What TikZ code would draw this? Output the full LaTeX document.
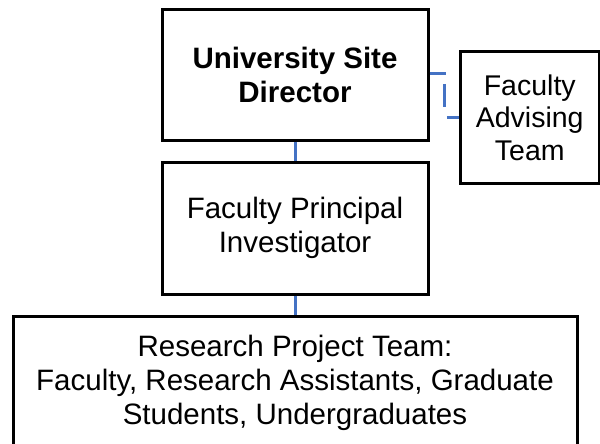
\documentclass[tikz,border=0pt]{standalone}
\usepackage{fontspec}
\setmainfont{Liberation Sans}
\definecolor{linkblue}{HTML}{4472C4}
\begin{document}
\begin{tikzpicture}[x=1pt,y=-1pt,
  box/.style={draw=black, line width=3pt, fill=white, inner sep=0pt,
    align=center, font=\fontsize{29.5}{34}\selectfont},
  link/.style={draw=linkblue, line width=3pt},
  dashlink/.style={link, dash pattern=on 15pt off 9.5pt on 22.5pt off 14pt on 20pt off 10pt}]
  \useasboundingbox (0,0) rectangle (600,444);
  \clip (0,0) rectangle (600,444);

  \node[box, minimum width=266pt, minimum height=130pt] (dir) at (295,75)
    {\bfseries University Site\\\bfseries Director};
  \node[box, minimum width=138.5pt, minimum height=131.5pt,
        font=\fontsize{28.5}{32.5}\selectfont] (adv) at (529.75,117.75)
    {Faculty\\Advising\\Team};
  \node[box, minimum width=266pt, minimum height=132pt] (pi) at (295,228)
    {Faculty Principal\\Investigator};
  \node[box, minimum width=564pt, minimum height=132pt] (team) at (295,382.5)
    {Research Project Team:\\Faculty, Research Assistants, Graduate\\Students, Undergraduates};

  \coordinate (elbow) at (444,0);
  \draw[dashlink] (dir.east |- 0,74) -- (elbow |- 0,74) -- (elbow |- adv.west) -- (adv.west);
  \draw[link] (dir.south) -- (pi.north);
  \draw[link] (pi.south) -- (team.north);
\end{tikzpicture}
\end{document}
